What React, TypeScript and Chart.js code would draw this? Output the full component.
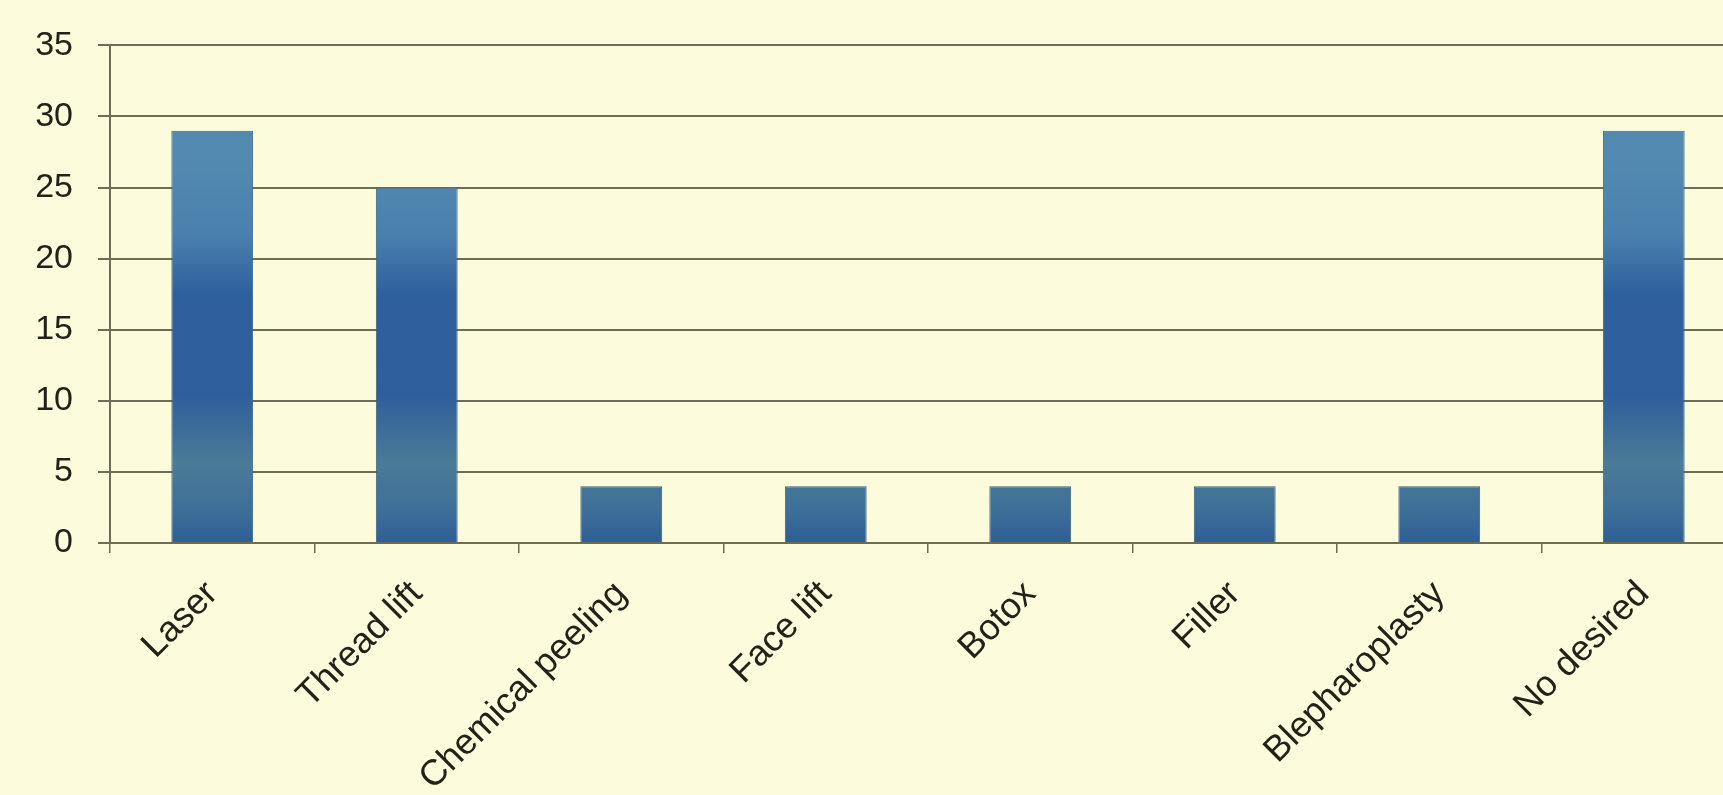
import React, { useEffect, useRef } from "react";
import { Chart, registerables } from "chart.js";

Chart.register(...registerables);

const categories = [
  "Laser",
  "Thread lift",
  "Chemical peeling",
  "Face lift",
  "Botox",
  "Filler",
  "Blepharoplasty",
  "No desired",
];
const values = [29, 25, 4, 4, 4, 4, 4, 29];
const yMin = 0;
const yMax = 35;
const yStep = 5;

const BG = "#fcfcdc";
const GRID = "#6e6c54";
const TEXT = "#222218";

export default function App() {
  const ref = useRef<HTMLCanvasElement | null>(null);

  useEffect(() => {
    const canvas = ref.current;
    if (!canvas) return;
    const chart = new Chart(canvas, {
      type: "bar",
      data: {
        labels: categories,
        datasets: [
          {
            data: values,
            backgroundColor: (ctx: any) => {
              const c = ctx.chart;
              const area = c.chartArea;
              if (!area) return "#3f74a4";
              const y = c.scales.y;
              const g = c.ctx.createLinearGradient(0, y.getPixelForValue(0), 0, y.getPixelForValue(35));
              g.addColorStop(0, "#2f5d95");
              g.addColorStop(0.06, "#3d6e98");
              g.addColorStop(0.16, "#4a7b97");
              g.addColorStop(0.3, "#2f5e9c");
              g.addColorStop(0.5, "#2f609e");
              g.addColorStop(0.62, "#4a80ad");
              g.addColorStop(0.75, "#5189b0");
              g.addColorStop(1, "#548eb2");
              return g;
            },
            borderColor: "#3a6384",
            borderWidth: 1,
            barPercentage: 0.4,
            categoryPercentage: 1,
          },
        ],
      },
      options: {
        animation: false,
        responsive: false,
        maintainAspectRatio: false,
        layout: { padding: { top: 42, right: 14, left: 0, bottom: 0 } },
        plugins: {
          legend: { display: false },
          tooltip: { enabled: false },
        },
        scales: {
          x: {
            grid: {
              display: true,
              drawOnChartArea: false,
              drawTicks: true,
              tickLength: 10,
              offset: true,
              color: GRID,
              lineWidth: 1.5,
            },
            border: { display: true, color: GRID, width: 2 },
            ticks: {
              maxRotation: 45,
              minRotation: 45,
              autoSkip: false,
              padding: 20,
              color: TEXT,
              font: { family: "'Liberation Sans', Arial, sans-serif", size: 36 },
            },
            afterFit: (scale: any) => {
              scale.height = 252;
            },
          },
          y: {
            min: yMin,
            max: yMax,
            ticks: {
              stepSize: yStep,
              padding: 25,
              color: TEXT,
              font: { family: "'Liberation Sans', Arial, sans-serif", size: 34 },
            },
            grid: {
              color: GRID,
              lineWidth: 2,
              tickLength: 12,
              drawTicks: true,
            },
            border: { display: true, color: GRID, width: 2 },
            afterFit: (scale: any) => {
              scale.width = 110;
            },
          },
        },
      },
    });
    return () => chart.destroy();
  }, []);

  return (
    <div
      style={{
        position: "fixed",
        left: 0,
        top: 0,
        width: 1723,
        height: 795,
        overflow: "hidden",
        background: BG,
      }}
    >
      <canvas ref={ref} width={1760} height={795} style={{ display: "block" }} />
    </div>
  );
}
